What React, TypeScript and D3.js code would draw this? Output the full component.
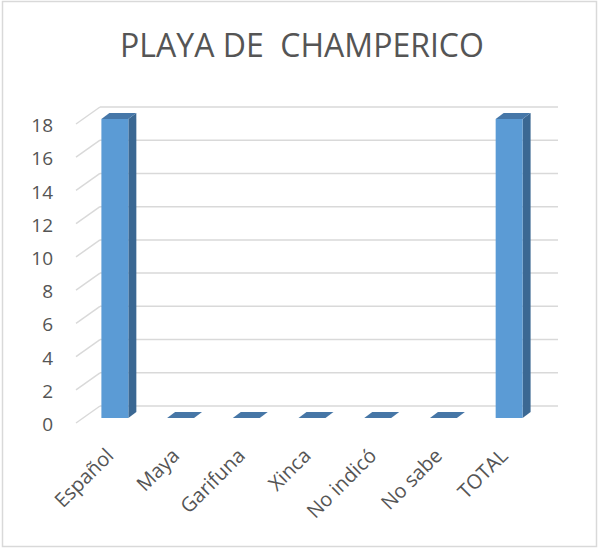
import React from "react";
import * as d3 from "d3";

const categories = ["Español", "Maya", "Garifuna", "Xinca", "No indicó", "No sabe", "TOTAL"];
const values = [18, 0, 0, 0, 0, 0, 18];
const yTicks = [0, 2, 4, 6, 8, 10, 12, 14, 16, 18];
const title = "PLAYA DE  CHAMPERICO";

const W = 598;
const H = 548;
const FONT = "'Open Sans', 'DejaVu Sans', sans-serif";
const TEXT = "#555555";
const GRID = "#d9d9d9";

export default function App() {
  const backX0 = 100;
  const backX1 = 558;
  const floorY = 406;
  const topY = 107;
  const wall = { dx: -24, dy: 17 };
  const front = { dx: -17, dy: 12 };
  const back = { dx: -9, dy: 6 };

  const x = d3
    .scaleBand<string>()
    .domain(categories)
    .range([backX0, backX1])
    .paddingInner(0.59)
    .paddingOuter(0.28);
  const y = d3.scaleLinear().domain([0, 18]).range([floorY, topY]);
  const bw = x.bandwidth();

  return (
    <div style={{ position: "absolute", left: 0, top: 0 }}>
      <svg width={W} height={H} xmlns="http://www.w3.org/2000/svg" style={{ display: "block" }}>
        <rect x={0} y={0} width={W} height={H} fill="#ffffff" />
        <rect x={2.5} y={1.5} width={594} height={545} fill="none" stroke={GRID} strokeWidth={1.5} />
        <text
          x={302}
          y={57}
          textAnchor="middle"
          fontFamily={FONT}
          fontSize={32}
          fill={TEXT}
          style={{ whiteSpace: "pre" }}
          xmlSpace="preserve"
        >
          {title}
        </text>
        {yTicks.map((t) => {
          const yy = y(t);
          return (
            <g key={t}>
              <line x1={backX0} x2={backX1} y1={yy} y2={yy} stroke={GRID} strokeWidth={1.5} />
              <line
                x1={backX0}
                y1={yy}
                x2={backX0 + wall.dx}
                y2={yy + wall.dy}
                stroke={GRID}
                strokeWidth={1.5}
              />
              <text
                x={53}
                y={yy + wall.dy + 3}
                textAnchor="end"
                dominantBaseline="middle"
                fontFamily={FONT}
                fontSize={19}
                fill={TEXT}
              >
                {t}
              </text>
            </g>
          );
        })}
        {categories.map((c, i) => {
          const v = values[i];
          const x0 = x(c) as number;
          const yv = y(v);
          const y0 = y(0);
          const fx0 = x0 + front.dx;
          const fx1 = x0 + bw + front.dx;
          const bx0 = x0 + back.dx;
          const bx1 = x0 + bw + back.dx;
          const topPts = [
            [fx0, yv + front.dy],
            [fx1, yv + front.dy],
            [bx1, yv + back.dy],
            [bx0, yv + back.dy],
          ];
          const sidePts = [
            [fx1, yv + front.dy],
            [bx1, yv + back.dy],
            [bx1, y0 + back.dy],
            [fx1, y0 + front.dy],
          ];
          return (
            <g key={c}>
              {v > 0 && (
                <polygon points={sidePts.map((p) => p.join(",")).join(" ")} fill="#3b6893" />
              )}
              {v > 0 && (
                <rect x={fx0} y={yv + front.dy} width={bw} height={y0 - yv} fill="#5b9bd5" />
              )}
              <polygon
                points={topPts.map((p) => p.join(",")).join(" ")}
                fill={v > 0 ? "#4677a8" : "#4676a6"}
              />
            </g>
          );
        })}
        {categories.map((c) => {
          const cx = (x(c) as number) + front.dx + bw / 2;
          const ax = cx;
          const ay = 457;
          return (
            <text
              key={c}
              transform={`translate(${ax},${ay}) rotate(-45)`}
              textAnchor="end"
              fontFamily={FONT}
              fontSize={20}
              fill={TEXT}
            >
              {c}
            </text>
          );
        })}
      </svg>
    </div>
  );
}
